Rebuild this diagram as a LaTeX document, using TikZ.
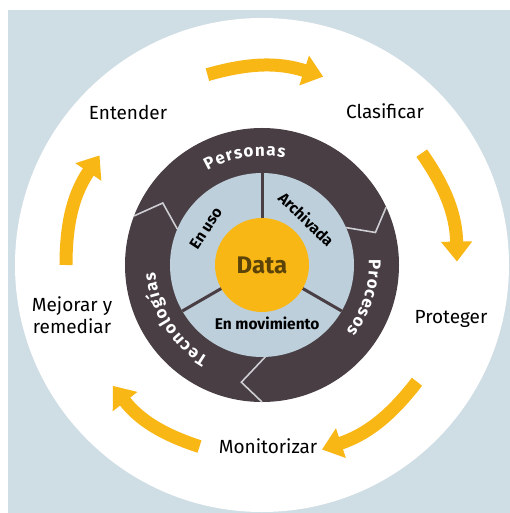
\documentclass[tikz,border=0pt]{standalone}
\usepackage{fontspec}
\setmainfont{Fira Sans}
\usetikzlibrary{arrows.meta, decorations.text}
\definecolor{bgblue}{RGB}{207,221,228}
\definecolor{ringgray}{RGB}{72,62,68}
\definecolor{innerblue}{RGB}{189,207,219}
\definecolor{datayellow}{RGB}{249,183,22}
\definecolor{datatext}{RGB}{92,68,8}
\definecolor{chevgray}{RGB}{205,205,210}
\newcommand{\ringfont}{\bfseries\fontsize{17}{17}\selectfont\color{white}}
\tikzset{
x=1pt, y=1pt, % one unit is one pixel of the picture
flow/.style={line width=13pt, datayellow, -{Triangle[width=30pt, length=20pt]}}, % the yellow cycle arrows
stage/.style={font=\fontsize{19}{22}\selectfont, align=center}, % the five steps round the circle
inner label/.style={font=\bfseries\fontsize{15.5}{15.5}\selectfont}, % states of the data
divider/.style={ringgray, line width=3pt},
chevron/.style={chevgray, line width=1.6pt},
ring label/.style={decorate, decoration={text along path, text align={fit to path}, text={|\ringfont|#1}}}, % white words in the dark ring
}
\begin{document}
\begin{tikzpicture}
            \useasboundingbox (-262,-248) rectangle (248,265);
            \fill[bgblue] (-254,-248) rectangle (248,255);
            \fill[white] (0,0) circle[radius=247];
            \fill[ringgray] (0,0) circle[radius=137];
            \fill[innerblue] (0,0) circle[radius=92];
            \draw[divider] (90:46) -- (90:92);
            \draw[divider] (210:46) -- (210:92);
            \draw[divider] (330:46) -- (330:92);
            \draw[chevron] (25:137) -- (16:118) -- (24:92);
            \draw[chevron] (159:137) -- (148:117) -- (157:92);
            \draw[chevron] (270:137) -- (260:119) -- (272:92);
            \node[circle, fill=datayellow, minimum size=94pt, inner sep=0pt,
                  font=\bfseries\fontsize{24}{24}\selectfont, text=datatext] (data) at (0,0) {Data};
            \path[ring label=Personas] (120:109) arc[start angle=120, end angle=78, radius=109];
            \path[ring label=Procesos] (3:107) arc[start angle=3, end angle=-38, radius=107];
            \path[ring label=Tecnologías] (240:107) arc[start angle=240, end angle=184, radius=107];
            \node[inner label, rotate=57] (enuso) at (147:67) {En uso};
            \node[inner label, rotate=-44] (archivada) at (46:64) {Archivada};
            \node[inner label] (enmovimiento) at (-85:59) {En movimiento};
            \node[stage] (entender) at (-134,153) {Entender};
            \node[stage] (clasificar) at (123,154) {Clasificar};
            \node[stage] (proteger) at (189,-54) {Proteger};
            \node[stage] (monitorizar) at (6,-181) {Monitorizar};
            \node[stage] (mejorar) at (-190,-50) {Mejorar y\\remediar};
            \coordinate (a1) at (106:198);
            \coordinate (b1) at (72:198);
            \coordinate (a2) at (35:195);
            \coordinate (b2) at (1:195);
            \coordinate (a3) at (-37:194);
            \coordinate (b3) at (-72:194);
            \coordinate (a4) at (-109:192);
            \coordinate (b4) at (-141:192);
            \coordinate (a5) at (180:196);
            \coordinate (b5) at (146:196);
            \draw[flow] (a1) to[bend left=17] (b1);
            \draw[flow] (a2) to[bend left=17] (b2);
            \draw[flow] (a3) to[bend left=17] (b3);
            \draw[flow] (a4) to[bend left=17] (b4);
            \draw[flow] (a5) to[bend left=17] (b5);
\end{tikzpicture}
\end{document}
